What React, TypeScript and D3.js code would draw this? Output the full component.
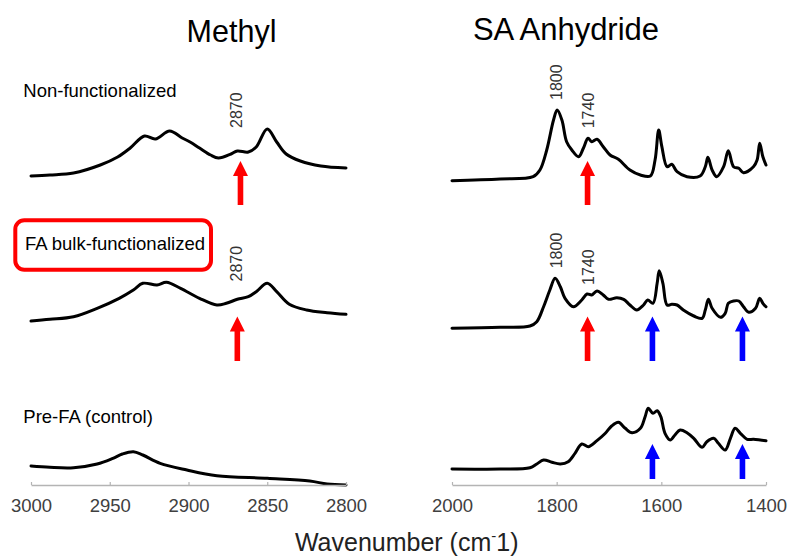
import React, { useEffect, useRef } from "react";
import * as d3 from "d3";

// FTIR spectra: wavenumber (cm-1) vs. absorbance (a.u.), stacked per sample.
const methylNonFunc: [number, number][] = [
  [3000, 0.09], [2988, 0.1], [2973, 0.12], [2956, 0.2], [2945, 0.28], [2937, 0.37],
  [2928, 0.49], [2921, 0.46], [2912, 0.54], [2904, 0.47], [2899, 0.43], [2893, 0.37],
  [2886, 0.3], [2881, 0.27], [2873, 0.31], [2869, 0.34], [2862, 0.33], [2857, 0.38],
  [2850, 0.56], [2844, 0.43], [2838, 0.31], [2829, 0.24], [2816, 0.19], [2800, 0.17],
];
const methylBulk: [number, number][] = [
  [3000, 0.04], [2988, 0.057], [2973, 0.083], [2958, 0.167], [2944, 0.267], [2935, 0.35],
  [2929, 0.417], [2920, 0.4], [2914, 0.427], [2905, 0.367], [2893, 0.267], [2882, 0.2],
  [2876, 0.217], [2869, 0.257], [2862, 0.283], [2857, 0.333], [2850, 0.417], [2844, 0.333],
  [2836, 0.207], [2825, 0.15], [2812, 0.123], [2800, 0.107],
];
const methylPreFA: [number, number][] = [
  [3000, 0.19], [2988, 0.177], [2973, 0.173], [2958, 0.21], [2948, 0.267], [2942, 0.31],
  [2935, 0.333], [2929, 0.3], [2918, 0.217], [2901, 0.15], [2882, 0.093], [2850, 0.067],
  [2823, 0.04], [2812, 0.01], [2800, 0.0],
];
const anhNonFunc: [number, number][] = [
  [2000, 0.043], [1908, 0.06], [1845, 0.083], [1832, 0.15], [1819, 0.35], [1806, 0.65],
  [1799, 0.75], [1790, 0.65], [1781, 0.433], [1771, 0.35], [1758, 0.283], [1749, 0.367],
  [1740, 0.467], [1733, 0.433], [1723, 0.457], [1711, 0.383], [1698, 0.3], [1682, 0.257],
  [1660, 0.15], [1640, 0.1], [1621, 0.09], [1612, 0.25], [1605, 0.55], [1599, 0.383],
  [1589, 0.183], [1580, 0.207], [1570, 0.133], [1551, 0.083], [1526, 0.09], [1516, 0.183],
  [1511, 0.277], [1503, 0.15], [1494, 0.083], [1481, 0.183], [1472, 0.343], [1462, 0.183],
  [1452, 0.167], [1443, 0.123], [1424, 0.183], [1417, 0.25], [1412, 0.417], [1406, 0.283],
  [1400, 0.2],
];
const anhBulk: [number, number][] = [
  [2000, 0.017], [1908, 0.027], [1851, 0.04], [1838, 0.083], [1825, 0.233], [1813, 0.4],
  [1803, 0.517], [1793, 0.433], [1784, 0.317], [1768, 0.233], [1752, 0.3], [1742, 0.36],
  [1733, 0.35], [1723, 0.39], [1711, 0.35], [1701, 0.307], [1685, 0.323], [1672, 0.307],
  [1660, 0.25], [1647, 0.2], [1634, 0.25], [1626, 0.3], [1616, 0.267], [1608, 0.467],
  [1604, 0.593], [1597, 0.467], [1589, 0.25], [1580, 0.257], [1570, 0.25], [1558, 0.2],
  [1538, 0.14], [1522, 0.117], [1516, 0.2], [1510, 0.307], [1503, 0.217], [1487, 0.127],
  [1478, 0.167], [1472, 0.267], [1462, 0.29], [1452, 0.29], [1443, 0.233], [1433, 0.177],
  [1420, 0.217], [1412, 0.317], [1406, 0.267], [1400, 0.233],
];
const anhPreFA: [number, number][] = [
  [2000, 0.16], [1908, 0.16], [1851, 0.173], [1838, 0.21], [1825, 0.25], [1809, 0.227],
  [1793, 0.21], [1778, 0.233], [1765, 0.317], [1752, 0.41], [1739, 0.383], [1723, 0.443],
  [1707, 0.517], [1695, 0.59], [1682, 0.627], [1669, 0.567], [1656, 0.523], [1640, 0.567],
  [1631, 0.683], [1625, 0.767], [1616, 0.717], [1608, 0.743], [1601, 0.683], [1593, 0.517],
  [1583, 0.45], [1574, 0.5], [1564, 0.55], [1551, 0.523], [1538, 0.467], [1522, 0.377],
  [1513, 0.433], [1500, 0.467], [1491, 0.417], [1478, 0.35], [1468, 0.467], [1459, 0.567],
  [1449, 0.517], [1436, 0.457], [1424, 0.457], [1411, 0.45], [1400, 0.443],
];

const sampleNames = ["Non-functionalized", "FA bulk-functionalized", "Pre-FA (control)"];
const panelTitles = ["Methyl", "SA Anhydride"];
const methylTicks = [3000, 2950, 2900, 2850, 2800];
const anhTicks = [2000, 1800, 1600, 1400];
const methylOffsets = [3.0, 1.6, 0];
const anhOffsets = [3.0, 1.55, 0];

type Arrow = { panel: number; row: number; wn: number; color: string };
const arrows: Arrow[] = [
  { panel: 0, row: 0, wn: 2867, color: "#ff0000" },
  { panel: 0, row: 1, wn: 2869, color: "#ff0000" },
  { panel: 1, row: 0, wn: 1741, color: "#ff0000" },
  { panel: 1, row: 1, wn: 1741, color: "#ff0000" },
  { panel: 1, row: 1, wn: 1617, color: "#0000ff" },
  { panel: 1, row: 1, wn: 1445, color: "#0000ff" },
  { panel: 1, row: 2, wn: 1617, color: "#0000ff" },
  { panel: 1, row: 2, wn: 1445, color: "#0000ff" },
];

type PeakLabel = { panel: number; row: number; wn: number };
const peakLabels: PeakLabel[] = [
  { panel: 0, row: 0, wn: 2870 },
  { panel: 0, row: 1, wn: 2870 },
  { panel: 1, row: 0, wn: 1800 },
  { panel: 1, row: 0, wn: 1740 },
  { panel: 1, row: 1, wn: 1800 },
  { panel: 1, row: 1, wn: 1740 },
];

// layout
const W = 788;
const H = 558;
const FONT = "'Liberation Sans', Arial, Helvetica, sans-serif";
const AXIS_Y = 485;
const arrowSpan: [number, number][] = [[161, 205], [316.5, 361], [444, 479]];
// bottom end of each rotated peak label, per panel and row (px)
const labelBase: Record<string, number> = {
  "0-0-2870": 128, "0-1-2870": 281.5,
  "1-0-1800": 100, "1-0-1740": 128.3,
  "1-1-1800": 268.3, "1-1-1740": 285,
};

const xScales = [
  d3.scaleLinear().domain([3000, 2800]).range([31, 346]),
  d3.scaleLinear().domain([2000, 1400]).range([452, 766]),
];
const yScale = d3.scaleLinear().domain([0, 4.2]).range([AXIS_Y, AXIS_Y - 420]);

const spectra = [
  [methylNonFunc, methylBulk, methylPreFA],
  [anhNonFunc, anhBulk, anhPreFA],
];
const offsets = [methylOffsets, anhOffsets];
const ticks = [methylTicks, anhTicks];

function arrowPath(x: number, tip: number, bottom: number) {
  const hw = 7.5, hh = 15, sw = 2.8;
  return `M${x - sw},${bottom}V${tip + hh}H${x - hw}L${x},${tip}L${x + hw},${tip + hh}H${x + sw}V${bottom}Z`;
}

export default function App() {
  const axisRefs = [useRef<SVGGElement>(null), useRef<SVGGElement>(null)];

  useEffect(() => {
    axisRefs.forEach((ref, i) => {
      if (!ref.current) return;
      const g = d3.select(ref.current);
      g.selectAll("*").remove();
      g.call(
        d3
          .axisBottom(xScales[i])
          .tickValues(ticks[i])
          .tickFormat(d3.format("d"))
          .tickSizeInner(-3)
          .tickSizeOuter(0)
          .tickPadding(13.4)
      );
      g.select(".domain").attr("stroke", "#b4b4b4").attr("stroke-width", 1.6);
      g.selectAll(".tick line").attr("stroke", "#b4b4b4").attr("stroke-width", 1.2);
      g.selectAll(".tick text")
        .attr("fill", "#404040")
        .style("font-family", FONT)
        .style("font-size", "18.5px");
    });
  }, []);

  return (
    <svg
      width={W}
      height={H}
      style={{ position: "absolute", left: 0, top: 0, background: "#fff" }}
      fontFamily={FONT}
    >
      <rect width={W} height={H} fill="#fff" />

      {/* panel titles */}
      <text x={231.5} y={41.7} textAnchor="middle" fontSize={30.5} fill="#000">
        {panelTitles[0]}
      </text>
      <text x={566} y={40} textAnchor="middle" fontSize={31} fill="#000">
        {panelTitles[1]}
      </text>

      {/* sample names */}
      <text x={23.3} y={96.7} fontSize={18.5} fill="#000">{sampleNames[0]}</text>
      <rect x={15.3} y={220.3} width={195.7} height={49.4} rx={9} fill="none" stroke="#ff0000" strokeWidth={4} />
      <text x={25} y={250} fontSize={18.5} fill="#000">{sampleNames[1]}</text>
      <text x={23.3} y={423.3} fontSize={18.5} fill="#000">{sampleNames[2]}</text>

      {/* spectra */}
      {spectra.map((rows, p) =>
        rows.map((series, r) => {
          const line = d3
            .line<[number, number]>()
            .x((d) => xScales[p](d[0]))
            .y((d) => yScale(d[1] + offsets[p][r]))
            .curve(d3.curveCatmullRom.alpha(0.5));
          return (
            <path
              key={`s-${p}-${r}`}
              d={line(series) || ""}
              fill="none"
              stroke="#000"
              strokeWidth={3}
              strokeLinejoin="round"
              strokeLinecap="round"
            />
          );
        })
      )}

      {/* arrows */}
      {arrows.map((a, i) => (
        <path
          key={`a-${i}`}
          d={arrowPath(xScales[a.panel](a.wn), arrowSpan[a.row][0], arrowSpan[a.row][1])}
          fill={a.color}
        />
      ))}

      {/* peak labels */}
      {peakLabels.map((l, i) => {
        const x = xScales[l.panel](l.wn);
        const y = labelBase[`${l.panel}-${l.row}-${l.wn}`];
        return (
          <text
            key={`l-${i}`}
            transform={`translate(${x},${y}) rotate(-90)`}
            dy="0.36em"
            fontSize={16}
            fill="#333"
          >
            {String(l.wn)}
          </text>
        );
      })}

      {/* axes */}
      <g ref={axisRefs[0]} transform={`translate(0,${AXIS_Y})`} />
      <g ref={axisRefs[1]} transform={`translate(0,${AXIS_Y})`} />

      <text x={406.7} y={551} textAnchor="middle" fontSize={25} fill="#222">
        Wavenumber (cm
        <tspan fontSize={15} dy={-10}>-</tspan>
        <tspan dy={10}>1)</tspan>
      </text>
    </svg>
  );
}
